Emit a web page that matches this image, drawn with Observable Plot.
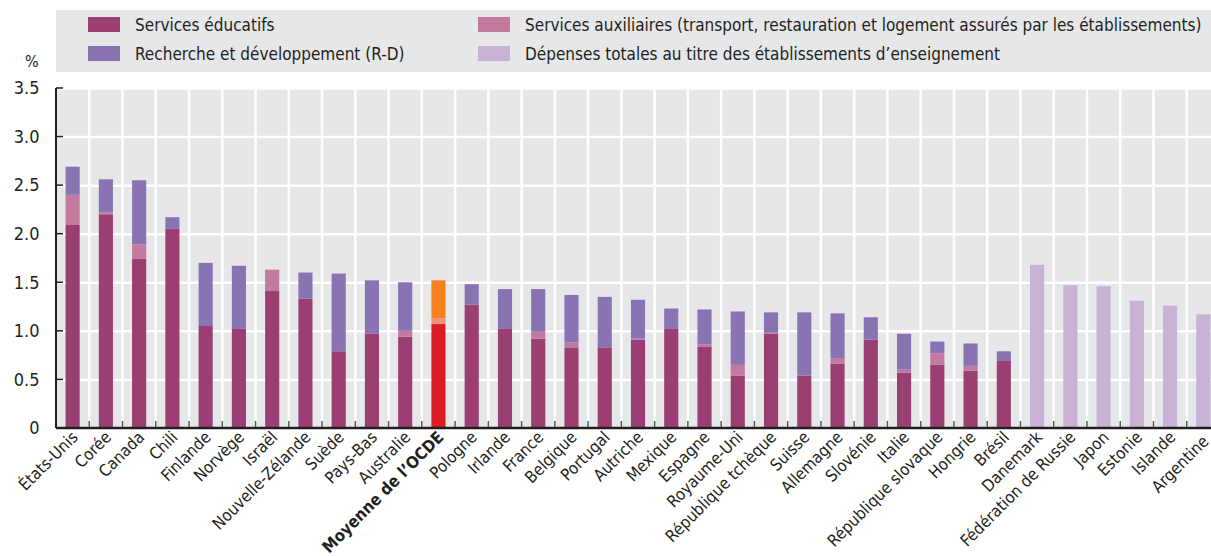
<!DOCTYPE html>
<html><head><meta charset="utf-8">
<script src="https://cdn.jsdelivr.net/npm/d3@7"></script>
<script src="https://cdn.jsdelivr.net/npm/@observablehq/plot@0.6"></script>
<style>
body{margin:0;background:#fff;font-family:"Liberation Sans Narrow","DejaVu Sans Condensed","Roboto",sans-serif;color:#231f20;}
#wrap{position:relative;width:1211px;height:556px;overflow:hidden;}
#legend{position:absolute;left:0;top:0;width:1211px;height:70px;}
#box{position:absolute;left:56px;top:10px;width:1155px;height:62px;background:#e6e7e9;}
.item{position:absolute;display:flex;align-items:center;font-size:17px;white-space:nowrap;}
.sw{width:32px;height:15px;margin-right:15px;}
#pct{position:absolute;left:25px;top:52px;font-size:16px;}
#chart{position:absolute;left:0;top:70px;}
</style></head>
<body><div id="wrap"><div id="chart"></div><div id="legend"><div id="box"></div><div id="pct">%</div></div></div>
<script>
const countries = ["États-Unis","Corée","Canada","Chili","Finlande","Norvège","Israël","Nouvelle-Zélande","Suède","Pays-Bas","Australie","Moyenne de l’OCDE","Pologne","Irlande","France","Belgique","Portugal","Autriche","Mexique","Espagne","Royaume-Uni","République tchèque","Suisse","Allemagne","Slovénie","Italie","République slovaque","Hongrie","Brésil","Danemark","Fédération de Russie","Japon","Estonie","Islande","Argentine"];
const education = [2.09,2.20,1.74,2.05,1.05,1.02,1.41,1.33,0.79,0.97,0.94,1.07,1.27,1.02,0.92,0.83,0.83,0.91,1.02,0.84,0.54,0.97,0.54,0.66,0.91,0.57,0.65,0.59,0.69,null,null,null,null,null,null];
const auxiliary = [0.31,0.02,0.15,0,0,0,0.22,0,0,0,0.06,0.06,0,0,0.07,0.05,0,0.01,0,0.02,0.11,0.01,0,0.06,0,0.03,0.12,0.05,0,null,null,null,null,null,null];
const research = [0.29,0.34,0.66,0.12,0.65,0.65,0,0.27,0.80,0.55,0.50,0.39,0.21,0.41,0.44,0.49,0.52,0.40,0.21,0.36,0.55,0.21,0.65,0.46,0.23,0.37,0.12,0.23,0.10,null,null,null,null,null,null];
const total = [null,null,null,null,null,null,null,null,null,null,null,null,null,null,null,null,null,null,null,null,null,null,null,null,null,null,null,null,null,1.68,1.47,1.46,1.31,1.26,1.17];
const seriesNames = ["Services éducatifs","Services auxiliaires (transport, restauration et logement assurés par les établissements)","Recherche et développement (R-D)","Dépenses totales au titre des établissements d’enseignement"];
const yTicks = [0,0.5,1,1.5,2,2.5,3,3.5];
const oecd = "Moyenne de l’OCDE";

const colors = ["#9b3f72","#c27a9e","#8a73b3","#c8b2d6"];
const oecdColors = ["#dc1c24","#f3907a","#f5821f","#c8b2d6"];
const seriesVals = [education, auxiliary, research, total];

const rows = [];
countries.forEach((c,i)=>{
  seriesVals.forEach((arr,s)=>{
    if(arr[i]!=null && arr[i]>0) rows.push({country:c, series:s, value:arr[i], color:(c===oecd?oecdColors:colors)[s]});
  });
});

// legend
const legend = document.getElementById("legend");
[[0,88,17],[1,478,17],[2,88,46],[3,478,46]].forEach(([s,x,y])=>{
  const d=document.createElement("div");d.className="item";d.style.left=x+"px";d.style.top=(y-2)+"px";d.style.height="19px";
  d.innerHTML=`<div class="sw" style="background:${colors[s]}"></div><span>${seriesNames[s]}</span>`;
  legend.appendChild(d);
});

const font = '"Liberation Sans Narrow","DejaVu Sans Condensed",sans-serif';
const W=1211,H=486,ML=56,MT=18,MB=128;
const plot = Plot.plot({
  width:W,height:H,marginLeft:ML,marginRight:0,marginTop:MT,marginBottom:MB,
  style:{fontFamily:font,fontSize:"16px",color:"#231f20",background:"transparent"},
  x:{type:"band",domain:countries,range:[ML,1220],paddingInner:0.575,paddingOuter:0.2875,round:false,label:null},
  y:{domain:[0,3.5],label:null},
  color:{type:"identity"},
  marks:[
    Plot.frame({fill:"#e6e7e9",stroke:null}),
    Plot.ruleY(yTicks.slice(1),{stroke:"white",strokeWidth:2.5}),
    Plot.barY(rows,{x:"country",y:"value",fill:"color"}),
    Plot.axisY({ticks:yTicks,tickSize:0,tickPadding:17,fontSize:18,tickFormat:d=>d===0?"0":d.toFixed(1),label:null}),
    Plot.axisX({tickSize:0,tickRotate:-45,tickPadding:6,fontSize:16.5,dx:2,label:null})
  ]
});
document.getElementById("chart").appendChild(plot);

// post: grid verticals, axis lines, ticks using plot scales
const xs = plot.scale("x"), ys = plot.scale("y");
const svg = d3.select(plot);
const step = xs.step, bw = xs.bandwidth;
const y0 = ys.apply(0), yTop = ys.apply(3.5);
const g = svg.insert("g","g[aria-label='bar']");
countries.slice(1).forEach(c=>{
  const bx = xs.apply(c) - (step-bw)/2;
  g.append("line").attr("x1",bx).attr("x2",bx).attr("y1",yTop).attr("y2",y0).attr("stroke","white").attr("stroke-width",2.5);
});
const g2 = svg.append("g");
countries.slice(1).forEach(c=>{
  const bx = xs.apply(c) - (step-bw)/2;
  g2.append("line").attr("x1",bx).attr("x2",bx).attr("y1",y0).attr("y2",y0-7).attr("stroke","#555").attr("stroke-width",1.5);
});
yTicks.forEach(t=>{
  const yy=ys.apply(t);
  g2.append("line").attr("x1",ML).attr("x2",ML+7).attr("y1",yy).attr("y2",yy).attr("stroke","#231f20").attr("stroke-width",1.5);
});
g2.append("line").attr("x1",ML).attr("x2",ML).attr("y1",yTop).attr("y2",y0).attr("stroke","#231f20").attr("stroke-width",2);
g2.append("line").attr("x1",ML).attr("x2",W).attr("y1",y0).attr("y2",y0).attr("stroke","#231f20").attr("stroke-width",2.5);
svg.selectAll("g[aria-label='x-axis tick label'] text").each(function(){
  const t=d3.select(this);
  if(t.text()===oecd) t.attr("font-weight","bold");
  if(t.text()===countries[countries.length-1]) t.attr("dx",-3).attr("dy",3);
});
</script></body></html>
